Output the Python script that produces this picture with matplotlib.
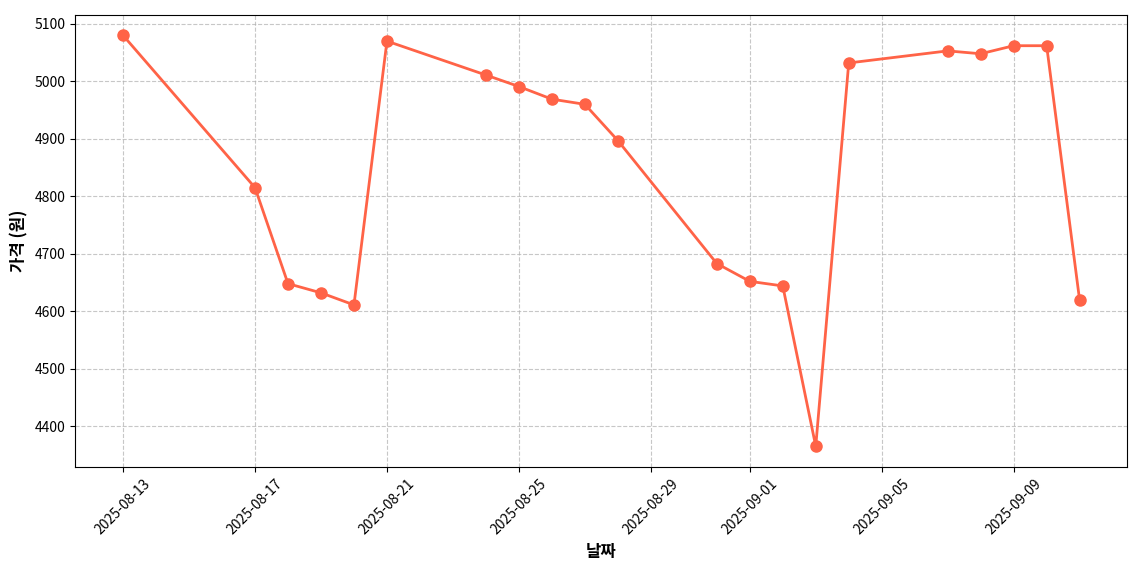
import matplotlib
matplotlib.use('Agg')
import matplotlib.pyplot as plt
import matplotlib.dates as mdates
import pandas as pd

plt.rcParams['font.family'] = ['Noto Sans CJK KR', 'DejaVu Sans']
plt.rcParams['axes.unicode_minus'] = False

# data
dates = ['2025-08-13', '2025-08-17', '2025-08-18', '2025-08-19', '2025-08-20',
         '2025-08-21', '2025-08-24', '2025-08-25', '2025-08-26', '2025-08-27',
         '2025-08-28', '2025-08-31', '2025-09-01', '2025-09-02', '2025-09-03',
         '2025-09-04', '2025-09-07', '2025-09-08', '2025-09-09', '2025-09-10',
         '2025-09-11']
prices = [5080, 4815, 4648, 4632, 4611,
          5070, 5011, 4991, 4969, 4960,
          4897, 4683, 4652, 4644, 4365,
          5032, 5053, 5048, 5062, 5062,
          4619]

x_label = '날짜'
y_label = '가격 (원)'

dates = pd.to_datetime(dates)

fig, ax = plt.subplots(figsize=(11.4, 5.7), dpi=100)
ax.plot(dates, prices, color='tomato', marker='o', markersize=8, linewidth=2)

ax.set_xlabel(x_label, fontsize=12, fontweight='bold')
ax.set_ylabel(y_label, fontsize=12, fontweight='bold')
ax.grid(True, linestyle='--', alpha=0.7)

ax.xaxis.set_major_formatter(mdates.DateFormatter('%Y-%m-%d'))
plt.setp(ax.get_xticklabels(), rotation=45)

# match the reference axes box
plt.subplots_adjust(left=0.066, right=0.989, top=0.974, bottom=0.181)
plt.savefig('out.png')
